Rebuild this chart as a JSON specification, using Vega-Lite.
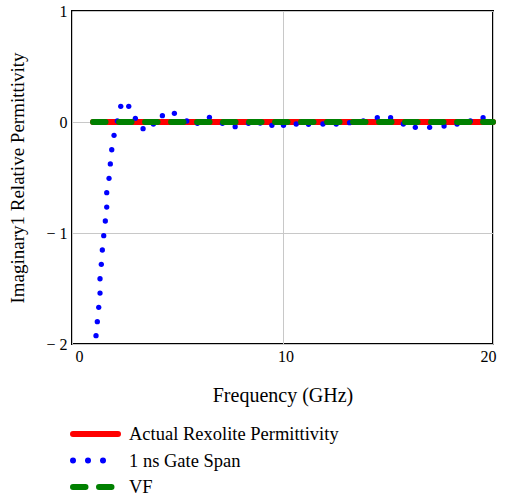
{
  "$schema": "https://vega.github.io/schema/vega-lite/v6.json",
  "autosize": {"type": "none"},
  "width": 421,
  "height": 333,
  "padding": {"left": 72, "top": 11, "right": 14, "bottom": 153},
  "background": "white",
  "config": {
    "view": {"stroke": "#000000", "strokeWidth": 2},
    "font": "Liberation Serif, Times New Roman, DejaVu Serif, serif",
    "axis": {
      "domain": false,
      "ticks": false,
      "grid": true,
      "gridColor": "#c8c8c8",
      "gridWidth": 1,
      "labelFont": "Liberation Serif, Times New Roman, DejaVu Serif, serif",
      "labelFontSize": 16,
      "labelColor": "#000000",
      "titleFont": "Liberation Serif, Times New Roman, DejaVu Serif, serif",
      "titleFontSize": 19,
      "titleFontWeight": "normal",
      "titleColor": "#000000"
    },
    "legend": {
      "labelFont": "Liberation Serif, Times New Roman, DejaVu Serif, serif",
      "labelFontSize": 18.5,
      "labelColor": "#000000",
      "labelLimit": 400,
      "padding": 0
    }
  },
  "datasets": {
    "actual": [
      {"f": 1, "eps": 0, "series": "Actual Rexolite Permittivity"},
      {"f": 5, "eps": 0, "series": "Actual Rexolite Permittivity"},
      {"f": 10, "eps": 0, "series": "Actual Rexolite Permittivity"},
      {"f": 15, "eps": 0, "series": "Actual Rexolite Permittivity"},
      {"f": 20, "eps": 0, "series": "Actual Rexolite Permittivity"}
    ],
    "vf": [
      {"f": 1, "eps": 0, "series": "VF"},
      {"f": 5, "eps": 0, "series": "VF"},
      {"f": 10, "eps": 0, "series": "VF"},
      {"f": 15, "eps": 0, "series": "VF"},
      {"f": 20, "eps": 0, "series": "VF"}
    ],
    "gated": [
      {"f": 1.141, "eps": -1.925},
      {"f": 1.203, "eps": -1.799},
      {"f": 1.270, "eps": -1.670},
      {"f": 1.331, "eps": -1.541},
      {"f": 1.331, "eps": -1.412},
      {"f": 1.393, "eps": -1.282},
      {"f": 1.441, "eps": -1.153},
      {"f": 1.507, "eps": -1.024},
      {"f": 1.583, "eps": -0.892},
      {"f": 1.650, "eps": -0.766},
      {"f": 1.650, "eps": -0.637},
      {"f": 1.759, "eps": -0.507},
      {"f": 1.821, "eps": -0.378},
      {"f": 1.888, "eps": -0.250},
      {"f": 1.997, "eps": -0.120},
      {"f": 2.154, "eps": 0.009},
      {"f": 2.316, "eps": 0.141},
      {"f": 2.696, "eps": 0.141},
      {"f": 3.010, "eps": 0.033},
      {"f": 3.376, "eps": -0.060},
      {"f": 3.866, "eps": -0.018},
      {"f": 4.294, "eps": 0.057},
      {"f": 4.864, "eps": 0.078},
      {"f": 5.454, "eps": 0.009},
      {"f": 5.958, "eps": -0.012},
      {"f": 6.529, "eps": 0.042},
      {"f": 7.147, "eps": -0.012},
      {"f": 7.751, "eps": -0.042},
      {"f": 8.383, "eps": -0.012},
      {"f": 8.940, "eps": -0.009},
      {"f": 9.496, "eps": -0.030},
      {"f": 10.048, "eps": -0.030},
      {"f": 10.651, "eps": -0.018},
      {"f": 11.236, "eps": -0.021},
      {"f": 11.921, "eps": -0.018},
      {"f": 12.553, "eps": -0.018},
      {"f": 13.186, "eps": -0.006},
      {"f": 13.837, "eps": 0.009},
      {"f": 14.503, "eps": 0.039},
      {"f": 15.136, "eps": 0.039},
      {"f": 15.740, "eps": -0.018},
      {"f": 16.310, "eps": -0.048},
      {"f": 16.990, "eps": -0.048},
      {"f": 17.675, "eps": -0.036},
      {"f": 18.293, "eps": -0.018},
      {"f": 18.925, "eps": 0.009},
      {"f": 19.529, "eps": 0.039}
    ]
  },
  "encoding": {
    "x": {
      "field": "f",
      "type": "quantitative",
      "scale": {"domain": [0, 20], "nice": false, "zero": false},
      "axis": {
        "title": "Frequency (GHz)",
        "titleFontSize": 20,
        "values": [0, 10, 20],
        "labelOffset": 3,
        "labelPadding": 4,
        "titlePadding": 21
      }
    },
    "y": {
      "field": "eps",
      "type": "quantitative",
      "scale": {"domain": [-2, 1], "nice": false, "zero": false},
      "axis": {
        "title": "Imaginary1 Relative Permittivity",
        "values": [-2, -1, 0, 1],
        "labelExpr": "datum.value < 0 ? '\u2212 ' + abs(datum.value) : datum.label",
        "labelPadding": 5,
        "titlePadding": 18
      }
    }
  },
  "layer": [
    {
      "data": {"name": "actual"},
      "mark": {"type": "line", "strokeWidth": 6, "strokeCap": "round"},
      "encoding": {
        "color": {
          "field": "series",
          "type": "nominal",
          "scale": {
            "domain": ["Actual Rexolite Permittivity", "1 ns Gate Span", "VF"],
            "range": ["#ff0000", "#0000ff", "#008000"]
          },
          "legend": {
            "title": null,
            "orient": "none",
            "legendX": -2,
            "legendY": 413,
            "symbolType": "stroke",
            "symbolSize": 2025,
            "symbolStrokeWidth": 6,
            "clipHeight": 20,
            "rowPadding": 6.5,
            "labelOffset": 8,
            "encode": {"symbols": {"update": {"strokeCap": {"value": "round"}}}}
          }
        },
        "strokeDash": {
          "field": "series",
          "type": "nominal",
          "scale": {
            "domain": ["Actual Rexolite Permittivity", "1 ns Gate Span", "VF"],
            "range": [[1, 0], [0, 15], [12.5, 13.5]]
          },
          "legend": null
        }
      }
    },
    {
      "data": {"name": "gated"},
      "mark": {"type": "point", "filled": true, "size": 28, "color": "#0000ff", "opacity": 1}
    },
    {
      "data": {"name": "vf"},
      "mark": {"type": "line", "strokeWidth": 6, "strokeCap": "round"},
      "encoding": {
        "color": {"field": "series", "type": "nominal"},
        "strokeDash": {"field": "series", "type": "nominal"}
      }
    }
  ]
}
